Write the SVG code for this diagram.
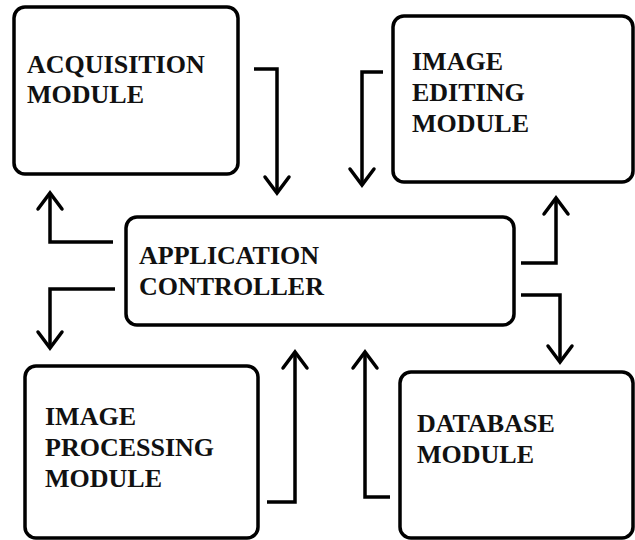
<svg xmlns="http://www.w3.org/2000/svg" width="635" height="540" viewBox="0 0 635 540">
  <style>
    .box { fill: #ffffff; stroke: #000000; stroke-width: 3.5; }
    .lbl { font-family: "Liberation Serif", "Times New Roman", serif; font-weight: bold; font-size: 26px; fill: #111111; }
    .conn { fill: none; stroke: #000000; stroke-width: 3.5; stroke-linejoin: miter; }
  </style>
  <defs>
    <marker id="arr" markerUnits="userSpaceOnUse" markerWidth="40" markerHeight="40" viewBox="-20 -20 40 40" refX="0" refY="0" orient="auto" overflow="visible">
      <path d="M-16,-12 L0,0 L-16,12" fill="none" stroke="#000000" stroke-width="3.5" stroke-linecap="round" stroke-linejoin="miter"/>
    </marker>
  </defs>
  <rect width="635" height="540" fill="#ffffff"/>

  <g id="acquisition">
    <rect class="box" x="14" y="7" width="224" height="167" rx="11"/>
    <text class="lbl" x="27" y="73">ACQUISITION</text>
    <text class="lbl" x="27" y="103">MODULE</text>
  </g>

  <g id="image-editing">
    <rect class="box" x="393" y="16" width="240" height="166" rx="11"/>
    <text class="lbl" x="412" y="70">IMAGE</text>
    <text class="lbl" x="412" y="101">EDITING</text>
    <text class="lbl" x="412" y="132">MODULE</text>
  </g>

  <g id="application-controller">
    <rect class="box" x="126" y="217" width="388" height="108" rx="11"/>
    <text class="lbl" x="139" y="264">APPLICATION</text>
    <text class="lbl" x="139" y="295">CONTROLLER</text>
  </g>

  <g id="image-processing">
    <rect class="box" x="25" y="366" width="233" height="172" rx="11"/>
    <text class="lbl" x="45" y="425">IMAGE</text>
    <text class="lbl" x="45" y="456">PROCESSING</text>
    <text class="lbl" x="45" y="487">MODULE</text>
  </g>

  <g id="database">
    <rect class="box" x="400" y="372" width="233" height="166" rx="11"/>
    <text class="lbl" x="417" y="432">DATABASE</text>
    <text class="lbl" x="417" y="463">MODULE</text>
  </g>

  <g id="connectors">
    <path class="conn" d="M254,69 H277 V193" marker-end="url(#arr)"/>
    <path class="conn" d="M383,72 H362 V185" marker-end="url(#arr)"/>
    <path class="conn" d="M113,242 H50 V193" marker-end="url(#arr)"/>
    <path class="conn" d="M115,289 H50 V348" marker-end="url(#arr)"/>
    <path class="conn" d="M521,263 H556 V198" marker-end="url(#arr)"/>
    <path class="conn" d="M521,295 H560 V362" marker-end="url(#arr)"/>
    <path class="conn" d="M267,502 H295 V352" marker-end="url(#arr)"/>
    <path class="conn" d="M390,497 H365 V352" marker-end="url(#arr)"/>
  </g>
</svg>
